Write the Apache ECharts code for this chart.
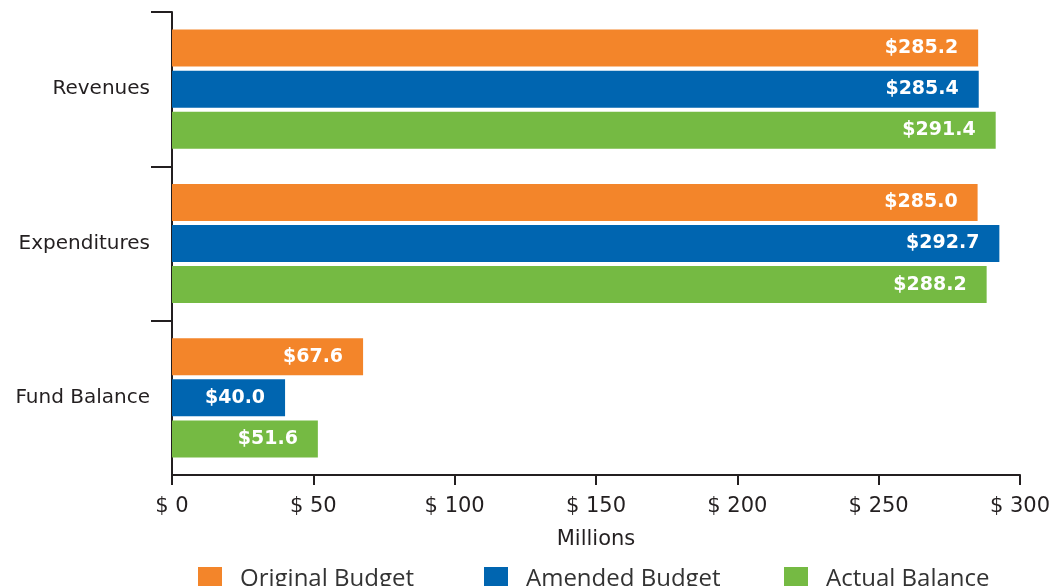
<!DOCTYPE html>
<html>
<head>
<meta charset="utf-8">
<script src="https://cdn.jsdelivr.net/npm/echarts@6/dist/echarts.min.js"></script>
<style>
	html, body {
		margin: 0;
		padding: 0;
		background: #fff;
	}
	#myChart {
		width: 1054px;
		height: 586px;
	}
</style>
</head>
<body>
<div id="myChart"></div>
<script>
// categories, top to bottom
var categories = ["Revenues", "Expenditures", "Fund Balance"];
var seriesNames = ["Original Budget", "Amended Budget", "Actual Balance"];
// $ millions
var originalBudget = [285.2, 285.0, 67.6];
var amendedBudget = [285.4, 292.7, 40.0];
var actualBalance = [291.4, 288.2, 51.6];
var xTicks = [0, 50, 100, 150, 200, 250, 300];

var colors = ["#F3852A", "#0065B0", "#75BA43"];
var textColor = "#231f20";
var font = "'DejaVu Sans', sans-serif";

function makeSeries(name, data, color) {
	return {
		name: name,
		type: "bar",
		data: data,
		barWidth: 37,
		barGap: "11%",
		itemStyle: { color: color },
		label: {
			show: true,
			position: "insideRight",
			distance: 20,
			color: "#fff",
			fontFamily: font,
			fontWeight: "bold",
			fontSize: 19,
			formatter: function (p) {
				return "$" + p.value.toFixed(1);
			},
		},
	};
}

function makeLegend(name, left) {
	return {
		data: [name],
		left: left,
		top: 562,
		itemWidth: 24,
		itemHeight: 24,
		icon: "rect",
		itemGap: 0,
		textStyle: {
			color: "#333",
			fontFamily: "'Open Sans', sans-serif",
			fontSize: 24,
			padding: [0, 0, 0, 13],
		},
	};
}

var myChart = echarts.init(document.getElementById("myChart"));
myChart.setOption({
	animation: false,
	grid: {
		left: 172,
		right: 34,
		top: 12,
		bottom: 111,
	},
	legend: [
		makeLegend(seriesNames[0], 193),
		makeLegend(seriesNames[1], 479),
		makeLegend(seriesNames[2], 779),
	],
	xAxis: {
		type: "value",
		min: 0,
		max: 300,
		interval: 50,
		name: "Millions",
		nameLocation: "middle",
		nameGap: 54,
		nameTextStyle: {
			color: textColor,
			fontFamily: font,
			fontSize: 21,
		},
		axisLine: {
			show: true,
			onZero: false,
			lineStyle: { color: textColor, width: 2 },
		},
		axisTick: {
			show: true,
			length: 10,
			lineStyle: { color: textColor, width: 2 },
		},
		splitLine: { show: false },
		axisLabel: {
			margin: 21,
			color: textColor,
			fontFamily: font,
			fontSize: 21,
			formatter: function (v) {
				return xTicks.indexOf(v) >= 0 ? "$ " + v : "";
			},
		},
	},
	yAxis: [
		{
			type: "category",
			data: categories,
			inverse: true,
			axisLine: {
				show: true,
				lineStyle: { color: textColor, width: 2 },
			},
			axisTick: { show: false },
			axisLabel: {
				margin: 22,
				color: textColor,
				fontFamily: font,
				fontSize: 20,
			},
		},
		{
			// only for the boundary ticks between categories (no tick at the bottom)
			type: "value",
			position: "left",
			inverse: true,
			min: 0,
			max: categories.length,
			interval: 1,
			axisLine: { show: false },
			splitLine: { show: false },
			axisLabel: { show: false },
			axisTick: {
				show: true,
				length: 21,
				customValues: [0, 1, 2],
				lineStyle: { color: textColor, width: 2 },
			},
		},
	],
	series: [
		makeSeries(seriesNames[0], originalBudget, colors[0]),
		makeSeries(seriesNames[1], amendedBudget, colors[1]),
		makeSeries(seriesNames[2], actualBalance, colors[2]),
	],
});
</script>
</body>
</html>
